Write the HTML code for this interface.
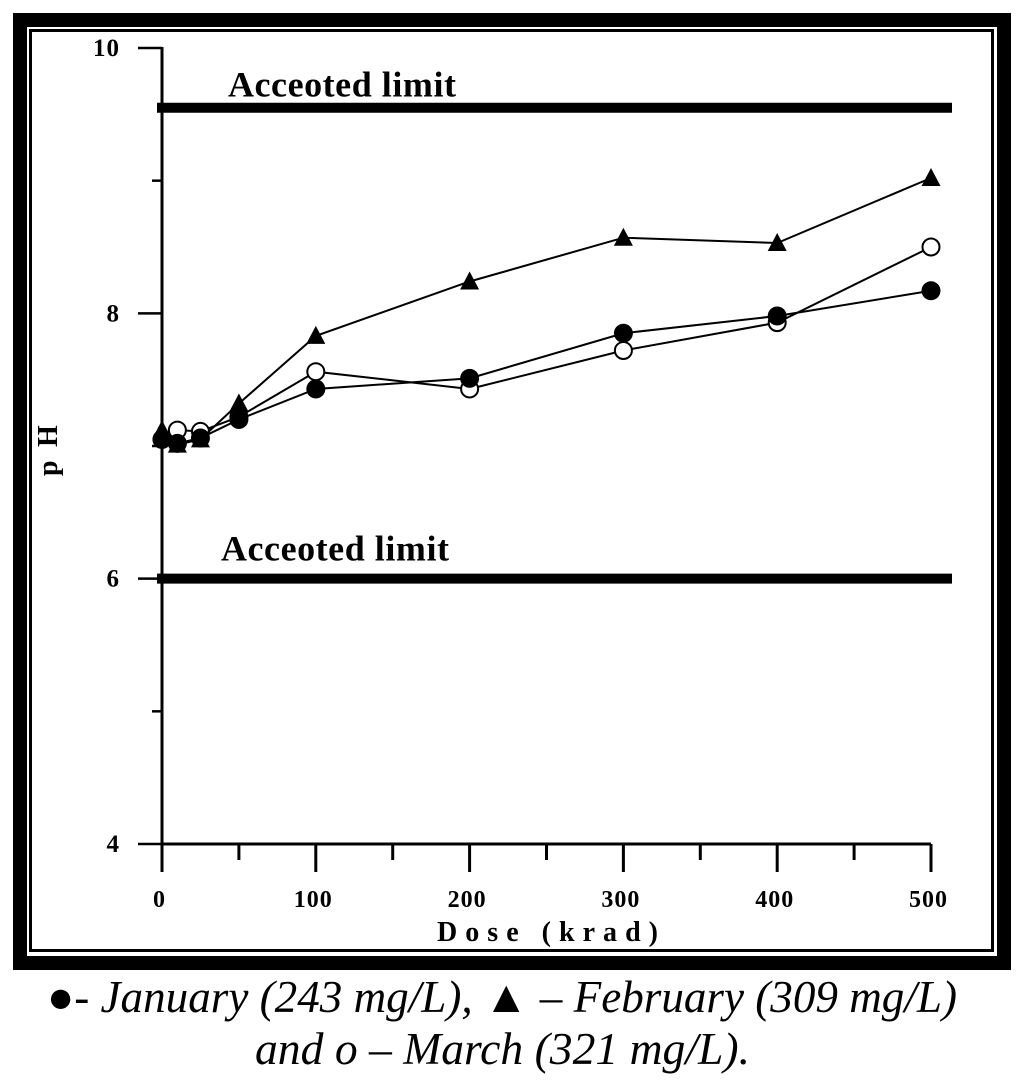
<!DOCTYPE html>
<html lang="en">
<head>
<meta charset="utf-8">
<title>pH vs Dose</title>
<style>
html,body{margin:0;padding:0;background:#fff;}
body{width:1024px;height:1087px;overflow:hidden;}
svg{display:block;}
text{font-family:"Liberation Serif",serif;fill:#000;}
.xtick{font-weight:bold;font-size:24px;letter-spacing:1px;}
.ytick{font-weight:bold;font-size:25px;letter-spacing:1px;}
.limit{font-weight:bold;font-size:36px;}
.cap{font-style:italic;font-size:45px;}
</style>
</head>
<body>
<svg id="chart" width="1024" height="1087" viewBox="0 0 1024 1087" xmlns="http://www.w3.org/2000/svg">
<rect x="20" y="20" width="984" height="943" fill="none" stroke="#000" stroke-width="14"/>
<rect x="30.5" y="30.5" width="962" height="920" fill="none" stroke="#000" stroke-width="3"/>
<g id="axes"></g>
<g id="limits"></g>
<g id="series"></g>
<text transform="translate(57,476) rotate(-90)" font-weight="bold" font-size="28" letter-spacing="3.2">p H</text>
<text x="437" y="941" font-weight="bold" font-size="28" textLength="221" lengthAdjust="spacing">Dose (krad)</text>
<text class="cap" x="47" y="1012" textLength="910" lengthAdjust="spacingAndGlyphs">●- January (243 mg/L), ▲ – February (309 mg/L)</text>
<text class="cap" x="255" y="1064" textLength="495" lengthAdjust="spacingAndGlyphs">and o – March (321 mg/L).</text>
</svg>
<script>
const doses = [0, 10, 25, 50, 100, 200, 300, 400, 500];
const january = [7.05, 7.02, 7.06, 7.2, 7.43, 7.51, 7.85, 7.98, 8.17];
const february = [7.12, 7.01, 7.05, 7.32, 7.83, 8.24, 8.57, 8.53, 9.02];
const march = [7.05, 7.12, 7.11, 7.22, 7.56, 7.43, 7.72, 7.93, 8.5];
const limitValues = [9.55, 6];
const limitLabels = ["Acceoted limit", "Acceoted limit"];
const yMajorTicks = [4, 6, 8, 10];
const yMinorTicks = [5, 7, 9];
const xMajorTicks = [0, 100, 200, 300, 400, 500];
const xMinorTicks = [50, 150, 250, 350, 450];

const NS = "http://www.w3.org/2000/svg";
function X(v){ return 162 + (v / 500) * 769; }
function Y(v){ return 844 - ((v - 4) / 6) * 796; }
function make(parent, tag, attrs, text){
  const el = document.createElementNS(NS, tag);
  for (const k in attrs) el.setAttribute(k, attrs[k]);
  if (text !== undefined) el.textContent = text;
  parent.appendChild(el);
  return el;
}
const axes = document.getElementById("axes");
const limits = document.getElementById("limits");
const seriesG = document.getElementById("series");

let el = make(axes, "line", {x1:X(0), x2:X(0), y1:Y(10)-1, y2:Y(4)+1, stroke:"#000", "stroke-width":3});


el = make(axes, "line", {x1:X(0), x2:X(500), y1:Y(4), y2:Y(4), stroke:"#000", "stroke-width":3});



yMajorTicks.forEach(function(v){
  const t = make(axes, "line", {x1:138, x2:X(0), y1:Y(v), y2:Y(v), stroke:"#000", "stroke-width":2.5});
  
  
  const l = make(axes, "text", {class:"ytick", x:120, y:Y(v)+8, "text-anchor":"end"}, String(v));
  
  
});
yMinorTicks.forEach(function(v){
  const t = make(axes, "line", {x1:152, x2:X(0), y1:Y(v), y2:Y(v), stroke:"#000", "stroke-width":2.5});
  
  
});
xMajorTicks.forEach(function(v){
  const t = make(axes, "line", {x1:X(v), x2:X(v), y1:Y(4), y2:872, stroke:"#000", "stroke-width":3});
  
  
  const l = make(axes, "text", {class:"xtick", x:X(v)-2.5, y:907, "text-anchor":"middle"}, String(v));
  
  
});
xMinorTicks.forEach(function(v){
  const t = make(axes, "line", {x1:X(v), x2:X(v), y1:Y(4), y2:860, stroke:"#000", "stroke-width":3});
  
  
});

limitValues.forEach(function(v, i){
  const ln = make(limits, "line", {x1:X(0)-5, x2:952, y1:Y(v), y2:Y(v), stroke:"#000", "stroke-width":10});
  
  
  const tx = make(limits, "text", {class:"limit", x:i === 0 ? 228 : 221, y:Y(v) + (i === 0 ? -11 : -18), textLength:228, lengthAdjust:"spacing"}, limitLabels[i]);
  
  
});

function polyline(values){
  const p = make(seriesG, "polyline", {
    points: values.map(function(v, i){ return X(doses[i]) + "," + Y(v); }).join(" "),
    fill:"none", stroke:"#000", "stroke-width":2
  });
  return p;
}
let marchLine = polyline(march);


march.forEach(function(v, i){
  const m = make(seriesG, "circle", {cx:X(doses[i]), cy:Y(v), r:8.5, fill:"#fff", stroke:"#000", "stroke-width":2});
  
  
});
let janLine = polyline(january);


let febLine = polyline(february);


january.forEach(function(v, i){
  const m = make(seriesG, "circle", {cx:X(doses[i]), cy:Y(v), r:9.5, fill:"#000"});
  
  
});
february.forEach(function(v, i){
  const x = X(doses[i]), y = Y(v);
  const m = make(seriesG, "polygon", {points:(x-9.5)+","+(y+8)+" "+(x+9.5)+","+(y+8)+" "+x+","+(y-10), fill:"#000"});
  
  
});
</script>
</body>
</html>
